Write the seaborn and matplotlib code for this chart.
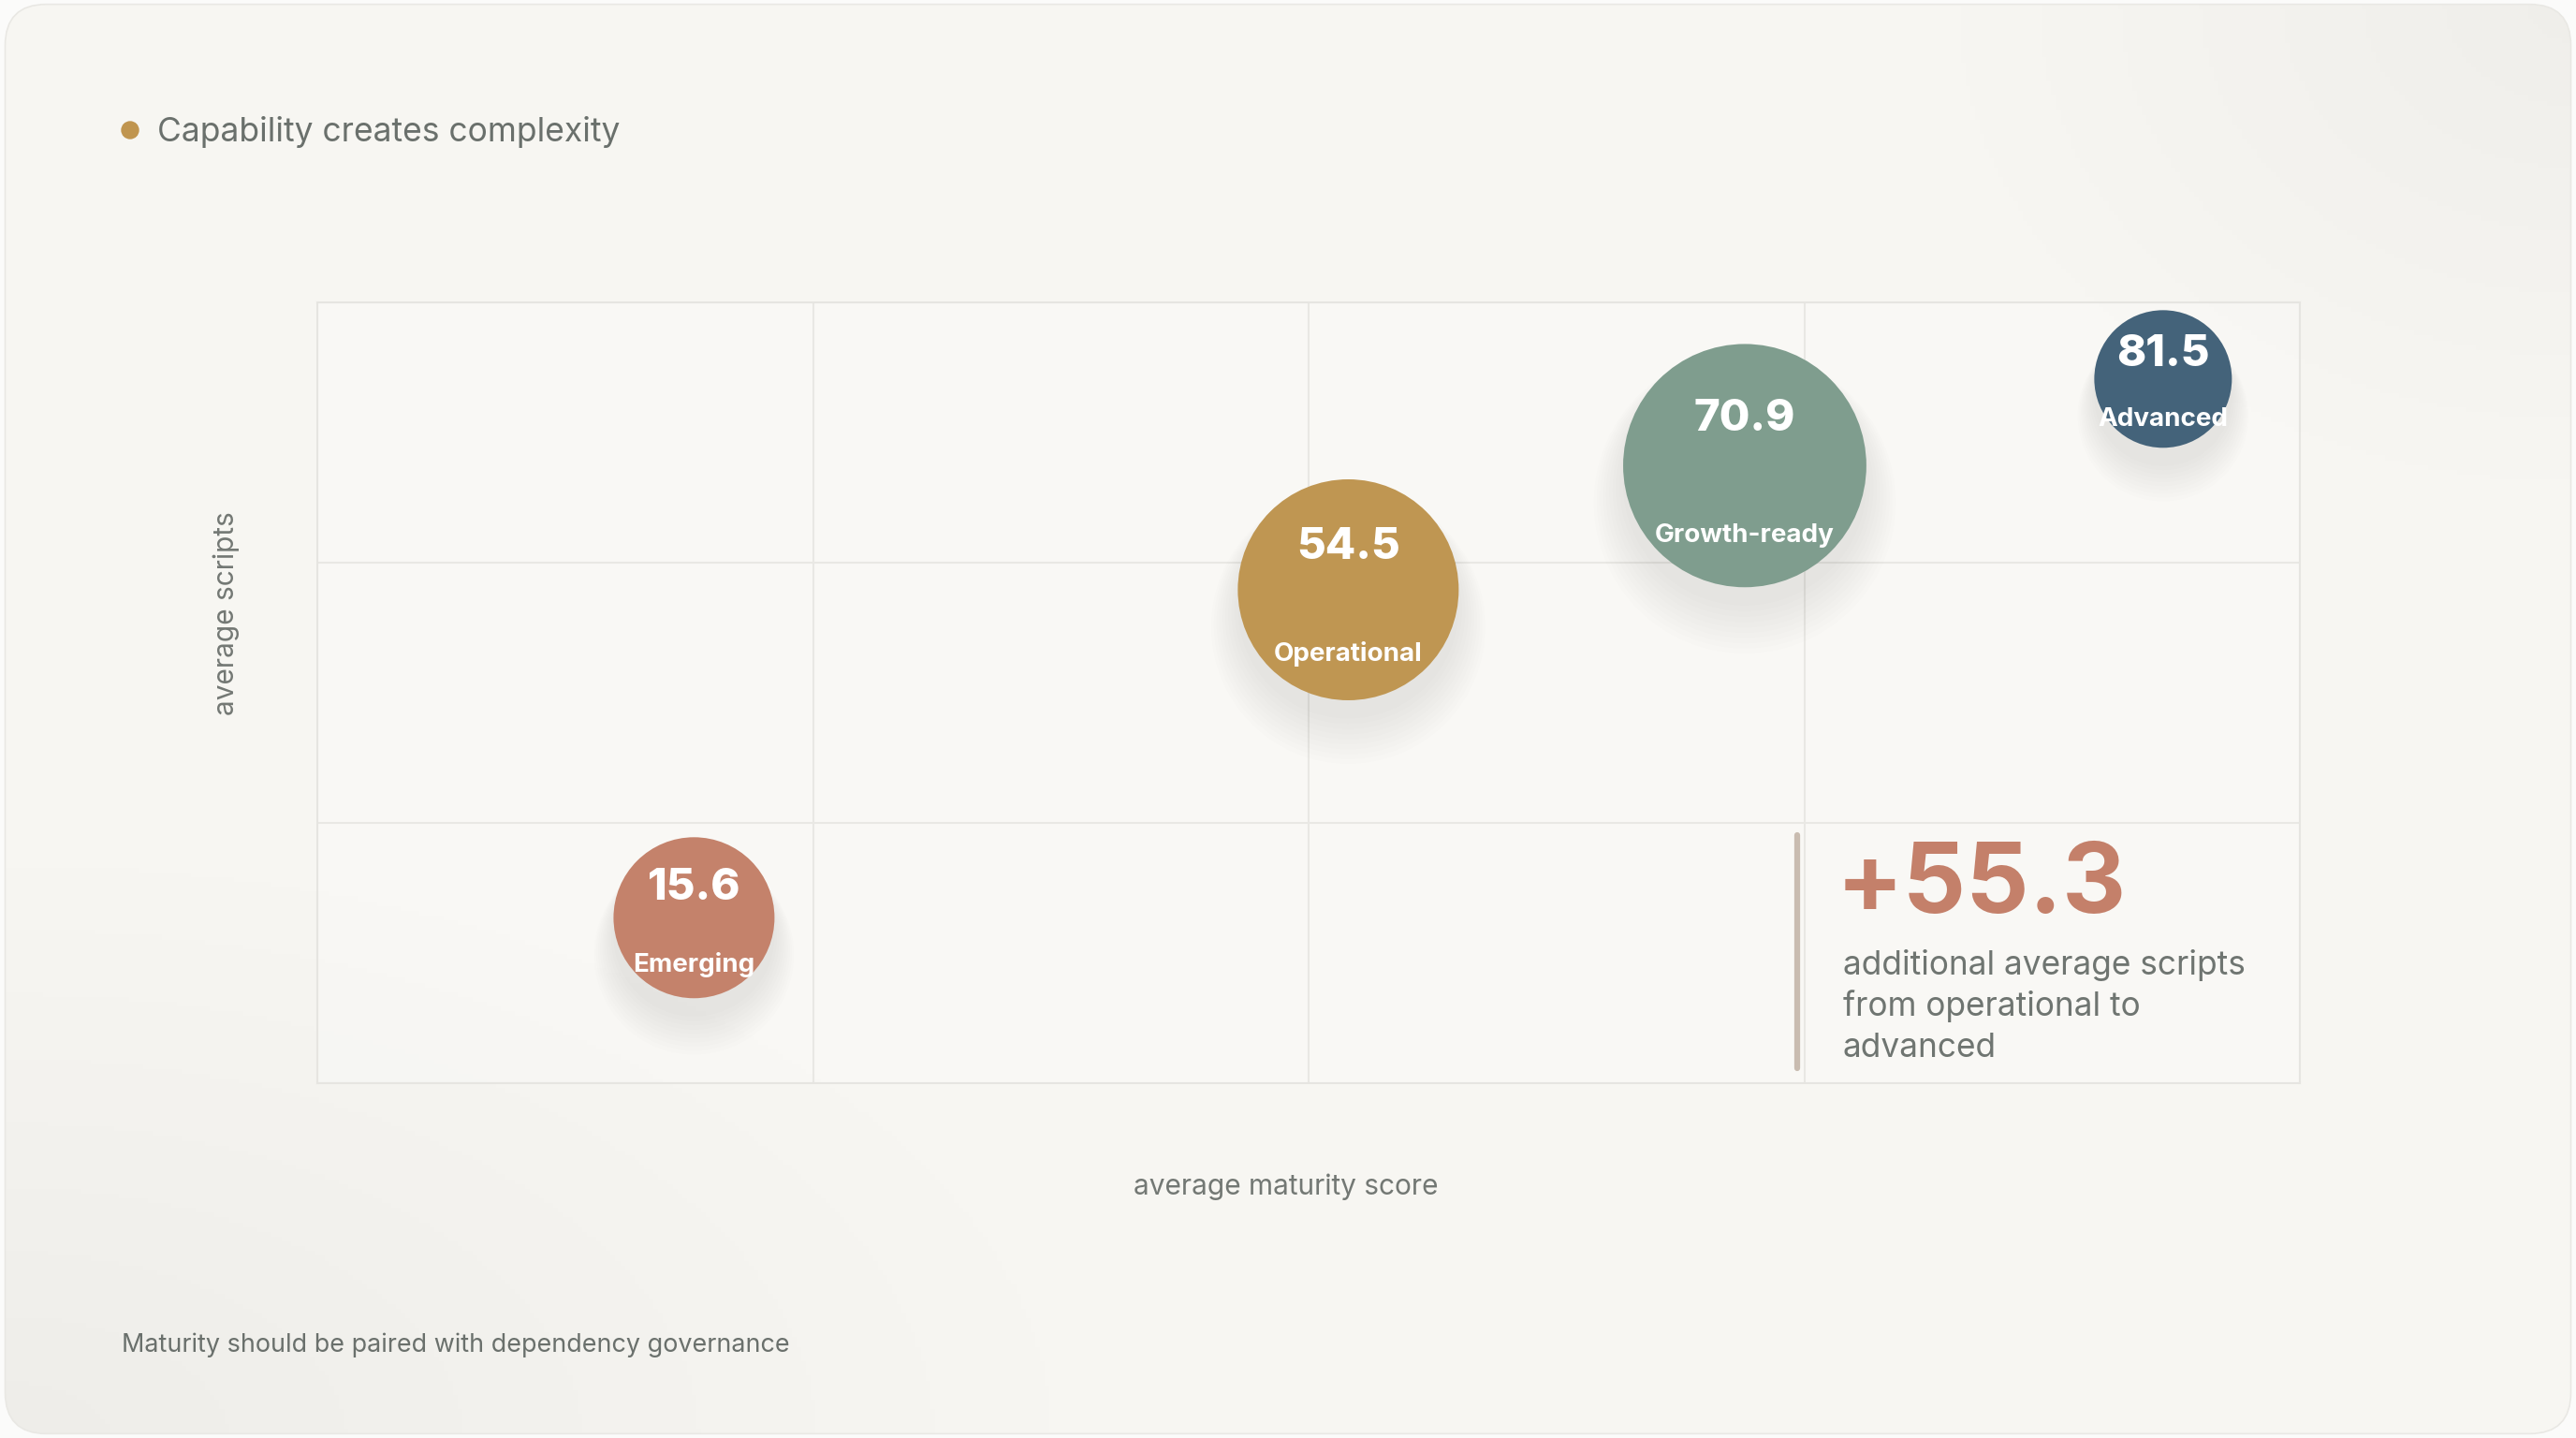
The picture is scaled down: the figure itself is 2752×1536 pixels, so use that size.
import matplotlib.pyplot as plt
import matplotlib.transforms as mtransforms
from matplotlib.patches import FancyBboxPatch, Ellipse
import numpy as np
import pandas as pd
import seaborn as sns

# data
stages = ["Emerging", "Operational", "Growth-ready", "Advanced"]
maturity = [19.0, 52.0, 72.0, 93.1]
scripts = [44.5, 132.7, 166.1, 189.4]
bubble_labels = ["15.6", "54.5", "70.9", "81.5"]
bubble_sizes = [15330, 28870, 35000, 11200]
colors = ["#c4826b", "#bf9652", "#7f9d8e", "#44637a"]
callout_value = "+55.3"
callout_lines = ["additional average scripts", "from operational to", "advanced"]

df = pd.DataFrame({"stage": stages, "maturity": maturity, "scripts": scripts})

sns.set_theme(style="white")
plt.rcParams['font.family'] = ['Inter', 'DejaVu Sans']

W, H = 2752, 1536
fig = plt.figure(figsize=(W / 100, H / 100), dpi=100)
fig.patch.set_facecolor("#fbfbfa")

# card background with soft shading
bg = fig.add_axes([0, 0, 1, 1], zorder=-5)
bg.set_axis_off()
h, w = 300, 540
yy, xx = np.mgrid[0:h, 0:w]
base = np.array([247, 246, 242]) / 255.0
d_bl = np.sqrt(((xx - 0) / 220.0) ** 2 + ((yy - h) / 120.0) ** 2)
d_tr = np.sqrt(((xx - w) / 130.0) ** 2 + ((yy - 0) / 100.0) ** 2)
shade = 0.035 * np.clip(1 - d_bl, 0, 1) + 0.03 * np.clip(1 - d_tr, 0, 1)
img = np.clip(base[None, None, :] - shade[..., None], 0, 1)
im = bg.imshow(img, extent=[0, 1, 0, 1], aspect="auto", transform=bg.transAxes)
card = FancyBboxPatch((0.002, 0.003), 0.996, 0.994, boxstyle="round,pad=0,rounding_size=0.016",
                      transform=bg.transAxes, facecolor="none", edgecolor="#e9e8e4", linewidth=1.2,
                      mutation_aspect=W / H)
bg.add_patch(card)
im.set_clip_path(card)
bg.set_xlim(0, 1)
bg.set_ylim(0, 1)

ax = fig.add_axes([339 / W, 1 - 1157 / H, 2118 / W, 834 / H])
ax.set_facecolor((1, 1, 1, 0.25))

# soft shadows under the bubbles
for k in range(10):
    off = mtransforms.offset_copy(ax.transData, fig=fig, x=0, y=-14 - k * 1.6, units="points")
    ax.scatter(maturity, scripts, s=[s * (1.0 + 0.06 * k) for s in bubble_sizes],
               color="#8a8a85", alpha=0.015, linewidths=0, transform=off, zorder=2)

sns.scatterplot(data=df, x="maturity", y="scripts", hue="stage", size="stage",
                palette=dict(zip(stages, colors)), sizes=dict(zip(stages, bubble_sizes)),
                linewidth=0, alpha=1, legend=False, ax=ax, zorder=3)

for xv, yv, lab, name, s in zip(maturity, scripts, bubble_labels, stages, bubble_sizes):
    r = np.sqrt(s) / 2
    ax.annotate(lab, (xv, yv), xytext=(0, 0.42 * r - 3.5), textcoords="offset points",
                ha="center", va="center", color="white", fontsize=34, fontweight="heavy", zorder=4)
    ax.annotate(name, (xv, yv), xytext=(0, -0.56 * r - 1.5), textcoords="offset points",
                ha="center", va="center", color="white", fontsize=20, fontweight="bold", zorder=4)

ax.set_xlim(0, 100)
ax.set_ylim(0, 210)
ax.set_xticks([0, 25, 50, 75, 100])
ax.set_yticks([0, 70, 140, 210])
ax.tick_params(left=False, bottom=False, labelleft=False, labelbottom=False)
ax.grid(True, color="#e9e8e4", linewidth=1.5)
ax.set_axisbelow(True)
for sp in ax.spines.values():
    sp.set_color("#e6e5e1")
    sp.set_linewidth(1.5)
ax.set_xlabel("")
ax.set_ylabel("")

# titles and labels
fig.patches.append(Ellipse((139 / W, 1 - 139 / H), 18 / W, 18 / H, transform=fig.transFigure,
                           color="#c0954f", figure=fig))
fig.text(168 / W, 1 - 141 / H, "Capability creates complexity", ha="left", va="center",
         fontsize=25.5, color="#6a706c")
fig.text(242 / W, 1 - 655 / H, "average scripts", rotation=90, ha="center", va="center",
         fontsize=21.5, color="#737874")
fig.text(1374 / W, 1 - 1268 / H, "average maturity score", ha="center", va="center",
         fontsize=21.5, color="#737874")
fig.text(130 / W, 1 - 1437 / H, "Maturity should be paired with dependency governance",
         ha="left", va="center", fontsize=19.4, color="#6a706c")

# callout
fig.add_artist(plt.Line2D([1920 / W, 1920 / W], [1 - 892 / H, 1 - 1141 / H],
                          transform=fig.transFigure, color="#c9bcb0", linewidth=4.5))
fig.text(1962 / W, 1 - 948 / H, callout_value, ha="left", va="center", fontsize=76,
         fontweight="bold", color="#c4806a")
for i, line in enumerate(callout_lines):
    fig.text(1969 / W, 1 - (1041 + 44 * i) / H, line, ha="left", va="baseline",
             fontsize=25.4, color="#6f7571")

fig.savefig("out.png", dpi=100, facecolor=fig.get_facecolor())
